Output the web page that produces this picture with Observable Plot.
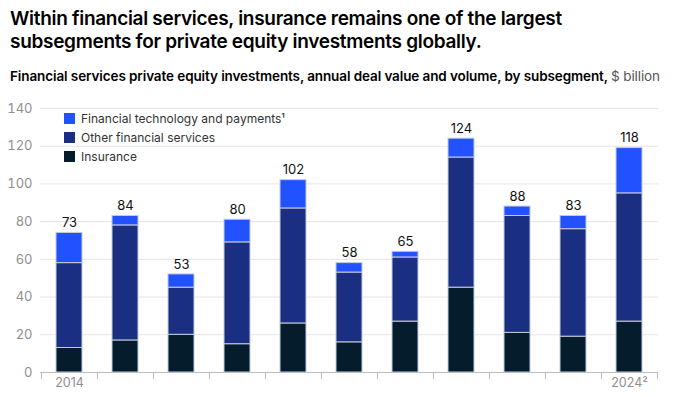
<!DOCTYPE html>
<html><head><meta charset="utf-8">
<script src="https://cdn.jsdelivr.net/npm/d3@7"></script>
<script src="https://cdn.jsdelivr.net/npm/@observablehq/plot@0.6"></script>
<style>
body{margin:0;background:#fff;font-family:Inter,"Noto Sans",sans-serif;width:679px;height:397px;overflow:hidden;position:relative}
#title{position:absolute;left:10px;top:7px;font-size:19px;font-weight:600;line-height:23px;color:#000;letter-spacing:-0.3px}
#sub{position:absolute;left:10px;top:68px;font-size:13.5px;font-weight:600;color:#000;white-space:nowrap;letter-spacing:-0.1px}
#sub span{font-weight:400;color:#555}
#chart{position:absolute;left:0;top:92px}
#legend{position:absolute;left:64px;top:109px;font-size:12px;color:#333;line-height:19px}
#legend div{display:flex;align-items:center}
#legend i{display:inline-block;width:11px;height:11px;margin-right:6px}
</style></head><body>
<div id="title">Within financial services, insurance remains one of the largest<br>subsegments for private equity investments globally.</div>
<div id="sub">Financial services private equity investments, annual deal value and volume, by subsegment, <span>$ billion</span></div>
<div id="chart"></div>
<div id="legend"></div>
<script>
const years = [2014,2015,2016,2017,2018,2019,2020,2021,2022,2023,2024];
const insurance = [13,17,20,15,26,16,27,45,21,19,27];
const other = [45,61,25,54,61,37,34,69,62,57,68];
const fintech = [16,5,7,12,15,5,3,10,5,7,24];
const totalLabels = [73,84,53,80,102,58,65,124,88,83,118];
const segments = ["Insurance","Other financial services","Financial technology and payments"];
const colors = ["#051C2C","#1B2F82","#2251FF"];
const legendLabels = ["Financial technology and payments¹","Other financial services","Insurance"];
const legendColors = ["#2251FF","#1B2F82","#051C2C"];
const yTicks = [0,20,40,60,80,100,120,140];

const rows = [];
years.forEach((y,i)=>{
  rows.push({year:y, seg:segments[0], v:insurance[i]});
  rows.push({year:y, seg:segments[1], v:other[i]});
  rows.push({year:y, seg:segments[2], v:fintech[i]});
});
const totals = years.map((y,i)=>({year:y, t:insurance[i]+other[i]+fintech[i], label:String(totalLabels[i])}));

const chart = Plot.plot({
  width:679, height:305,
  marginLeft:40, marginRight:21, marginTop:16, marginBottom:25,
  style:{fontFamily:"Inter, 'Noto Sans', sans-serif"},
  x:{type:"band", domain:years, paddingInner:0.53, paddingOuter:0.265},
  y:{domain:[0,140]},
  color:{domain:segments, range:colors},
  marks:[
    Plot.gridY(yTicks,{stroke:"#e4e4e4", strokeOpacity:1}),
    Plot.axisY(yTicks,{tickSize:0, tickPadding:8, fontSize:13, fill:"#8f8f8f", label:null}),
    Plot.barY(rows,{x:"year", y:"v", fill:"seg", order:segments, stroke:"#c5cbd8", strokeWidth:1}),
    Plot.ruleY([0],{stroke:"#bdbdbd"}),
    Plot.axisX(years,{tickSize:7, tickFormat:()=>"", dx:28, stroke:"#bdbdbd", label:null}),
    Plot.axisX([years[0]],{tickSize:7, tickFormat:()=>"", dx:-28, stroke:"#bdbdbd", label:null}),
    Plot.axisX(years,{tickSize:0, tickPadding:6, fontSize:12.5, fill:"#8f8f8f", label:null,
      tickFormat:d=> d===2014 ? "2014" : d===2024 ? "2024²" : ""}),
    Plot.text(totals,{x:"year", y:"t", text:"label", dy:-10, fontSize:13, fill:"#111"})
  ]
});
document.getElementById("chart").appendChild(chart);

const lg = document.getElementById("legend");
legendLabels.forEach((l,i)=>{
  const d=document.createElement("div");
  d.innerHTML=`<i style="background:${legendColors[i]}"></i>${l}`;
  lg.appendChild(d);
});
</script>
</body></html>
